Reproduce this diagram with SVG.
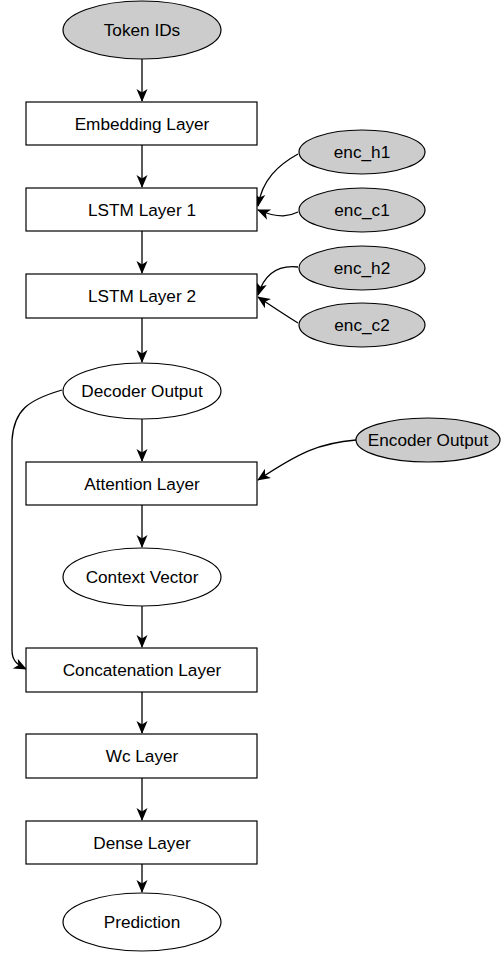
<svg xmlns="http://www.w3.org/2000/svg" width="502" height="953" viewBox="0 0 502 953">
<style>
.box{fill:#fff;stroke:#000;stroke-width:1.2}
.el{fill:#fff;stroke:#000;stroke-width:1.2}
.gray{fill:#cccccc;stroke:#000;stroke-width:1.2}
text{font-family:"Liberation Sans",Arial,Helvetica,sans-serif;font-size:17.2px;text-anchor:middle;fill:#000}
.edge{fill:none;stroke:#000;stroke-width:1.3;marker-end:url(#arr)}
</style>
<defs>
<marker id="arr" markerUnits="userSpaceOnUse" markerWidth="13" markerHeight="13" viewBox="0 0 13 13" refX="12" refY="6.5" orient="auto">
<path d="M0,1 L13,6.5 L0,12 L3.5,6.5 z" fill="#000"/>
</marker>
</defs>
<rect width="502" height="953" fill="#fff"/>
<g id="connectors">
<path class="edge" d="M142,59 L142,101"/>
<path class="edge" d="M142,145 L142,187"/>
<path class="edge" d="M142,231 L142,273"/>
<path class="edge" d="M142,318 L142,362"/>
<path class="edge" d="M142,419 L142,461"/>
<path class="edge" d="M142,505 L142,547"/>
<path class="edge" d="M142,606 L142,647"/>
<path class="edge" d="M142,692 L142,733"/>
<path class="edge" d="M142,778 L142,820"/>
<path class="edge" d="M142,864 L142,892"/>
<path class="edge" d="M298,154 C278,165 262,180 258,206"/>
<path class="edge" d="M298,212 C290,216 280,219 258,210"/>
<path class="edge" d="M298,267 C280,265 265,272 258,295"/>
<path class="edge" d="M298,323 C285,315 270,305 258,297"/>
<path class="edge" d="M356,440 C320,443 300,452 258,480"/>
<path class="edge" d="M62,390 C28,400 14,410 12,440 L12,650 C12,660 16,664 26,669"/>
</g>
<g id="token_ids"><ellipse class="gray" cx="142" cy="30" rx="79" ry="29"/><text x="142" y="36">Token IDs</text></g>
<g id="embedding"><rect class="box" x="26" y="102" width="231" height="43"/><text x="142" y="130">Embedding Layer</text></g>
<g id="lstm1"><rect class="box" x="26" y="188" width="231" height="43"/><text x="142" y="216">LSTM Layer 1</text></g>
<g id="lstm2"><rect class="box" x="26" y="274" width="231" height="44"/><text x="142" y="302">LSTM Layer 2</text></g>
<g id="enc_h1"><ellipse class="gray" cx="362" cy="152" rx="63" ry="22"/><text x="362" y="158">enc_h1</text></g>
<g id="enc_c1"><ellipse class="gray" cx="362" cy="210" rx="63" ry="22"/><text x="362" y="216">enc_c1</text></g>
<g id="enc_h2"><ellipse class="gray" cx="362" cy="268" rx="63" ry="22"/><text x="362" y="274">enc_h2</text></g>
<g id="enc_c2"><ellipse class="gray" cx="362" cy="325" rx="63" ry="22"/><text x="362" y="331">enc_c2</text></g>
<g id="decoder_output"><ellipse class="el" cx="142" cy="391" rx="79" ry="28"/><text x="142" y="397">Decoder Output</text></g>
<g id="encoder_output"><ellipse class="gray" cx="428" cy="440" rx="72" ry="22"/><text x="428" y="446">Encoder Output</text></g>
<g id="attention"><rect class="box" x="26" y="462" width="231" height="43"/><text x="142" y="490">Attention Layer</text></g>
<g id="context_vector"><ellipse class="el" cx="142" cy="577" rx="79" ry="29"/><text x="142" y="583">Context Vector</text></g>
<g id="concatenation"><rect class="box" x="26" y="648" width="231" height="44"/><text x="142" y="676">Concatenation Layer</text></g>
<g id="wc"><rect class="box" x="26" y="734" width="231" height="44"/><text x="142" y="762">Wc Layer</text></g>
<g id="dense"><rect class="box" x="26" y="821" width="231" height="43"/><text x="142" y="849">Dense Layer</text></g>
<g id="prediction"><ellipse class="el" cx="142" cy="922" rx="79" ry="29"/><text x="142" y="928">Prediction</text></g>
</svg>
